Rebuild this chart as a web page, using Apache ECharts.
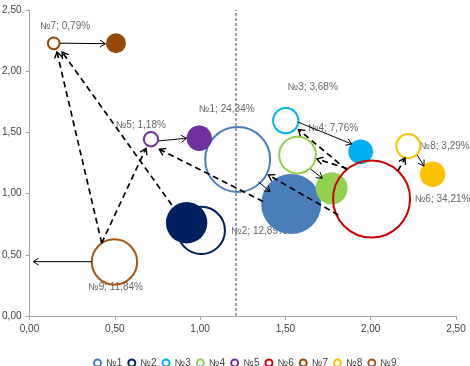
<!DOCTYPE html>
<html>
<head>
<meta charset="utf-8">
<script src="https://cdn.jsdelivr.net/npm/echarts@6/dist/echarts.min.js"></script>
<style>html,body{margin:0;padding:0;background:#fff}#c{width:470px;height:366px}</style>
</head>
<body>
<div id="c"></div>
<script>
const categories = ['№1','№2','№3','№4','№5','№6','№7','№8','№9'];
const seriesColors = ['#4A7EBB','#002060','#00B0F0','#92D050','#7030A0','#CC0000','#984806','#FFC000','#A85414'];
const openX = [1.220, 1.007, 1.502, 1.571, 0.712, 2.005, 0.142, 2.220, 0.498];
const openY = [1.279, 0.699, 1.596, 1.315, 1.444, 0.956, 2.228, 1.389, 0.441];
const openShare = [24.34, 12.89, 3.68, 7.76, 1.18, 34.21, 0.79, 3.29, 11.84];
const fillX = [1.534, 0.921, 1.941, 1.771, 0.995, null, 0.507, 2.363, null];
const fillY = [0.915, 0.762, 1.342, 1.043, 1.452, null, 2.228, 1.158, null];
const fillShare = [20.8, 9.9, 3.5, 5.9, 3.7, null, 2.3, 3.7, null];
const labelX = [1.156, 1.345, 1.660, 1.779, 0.652, 2.421, 0.208, 2.433, 0.504];
const labelY = [1.691, 0.694, 1.868, 1.536, 1.560, 0.953, 2.369, 1.383, 0.234];
const averageX = 1.21;
const solidArrows = [
  [0.179, 2.229, 0.445, 2.225],
  [0.755, 1.430, 0.921, 1.452],
  [1.341, 1.097, 1.410, 1.016],
  [1.576, 1.583, 1.889, 1.405],
  [1.648, 1.201, 1.716, 1.125],
  [2.273, 1.315, 2.312, 1.225],
  [0.365, 0.444, 0.022, 0.444]
];
const dashedArrows = [
  [0.423, 0.596, 0.161, 2.157],
  [0.423, 0.596, 0.683, 1.370],
  [0.834, 0.907, 0.191, 2.157],
  [1.369, 0.936, 0.761, 1.362],
  [1.810, 0.825, 1.400, 1.152],
  [1.861, 1.205, 1.685, 1.283],
  [1.861, 1.193, 1.576, 1.524],
  [2.160, 1.185, 2.201, 1.291]
];
const xTicks = {min: 0, max: 2.5, interval: 0.5};
const yTicks = {min: 0, max: 2.5, interval: 0.5};

const fmt = v => v.toFixed(2).replace('.', ',');
const sizeOf = s => 77 * Math.sqrt(s / 34.21);
const txt = '#404040';
const font = 'Liberation Sans';

const series = [];
series.push({
  type: 'scatter', name: 'labels', z: 1, zlevel: 0, silent: true,
  symbolSize: 1, itemStyle: {color: 'rgba(0,0,0,0)'},
  data: categories.map((c, i) => ({value: [labelX[i], labelY[i]], name: c})),
  label: {show: true, position: 'inside', fontFamily: font, fontSize: 10, color: txt,
    formatter: p => p.name + '; ' + fmt(openShare[p.dataIndex]) + '%'},
  markLine: {silent: true, symbol: 'none', label: {show: false},
    lineStyle: {color: '#808080', type: [3, 2], width: 1.5},
    data: [{xAxis: averageX}]}
});
categories.forEach((c, i) => {
  const data = [{value: [openX[i], openY[i], openShare[i]]}];
  if (fillX[i] != null) data.push({value: [fillX[i], fillY[i], fillShare[i]],
    itemStyle: {color: seriesColors[i], borderWidth: 0, opacity: 1}});
  series.push({
    type: 'scatter', name: c, z: 2, zlevel: 1, silent: true,
    symbolSize: v => sizeOf(v[2]),
    itemStyle: {color: 'rgba(255,255,255,0)', borderColor: seriesColors[i], borderWidth: 2, opacity: 1},
    data: data
  });
});
const arrowData = solidArrows.map(a => a.concat([0])).concat(dashedArrows.map(a => a.concat([1])));
series.push({
  type: 'custom', name: 'arrows', z: 3, zlevel: 1, silent: true,
  encode: {x: [0, 2], y: [1, 3]},
  data: arrowData,
  renderItem: (params, api) => {
    const p1 = api.coord([api.value(0), api.value(1)]);
    const p2 = api.coord([api.value(2), api.value(3)]);
    const dashed = api.value(4) === 1;
    const a = Math.atan2(p2[1] - p1[1], p2[0] - p1[0]);
    const L = dashed ? 7 : 6.5, phi = Math.PI / 5.5;
    const h1 = [p2[0] - L * Math.cos(a - phi), p2[1] - L * Math.sin(a - phi)];
    const h2 = [p2[0] - L * Math.cos(a + phi), p2[1] - L * Math.sin(a + phi)];
    return {type: 'group', children: [
      {type: 'line', shape: {x1: p1[0], y1: p1[1], x2: p2[0], y2: p2[1]},
        style: {stroke: '#000', lineWidth: dashed ? 1.7 : 1, lineDash: dashed ? [6, 4] : null}},
      {type: 'polyline', shape: {points: [h1, p2, h2]},
        style: {stroke: '#000', fill: null, lineWidth: dashed ? 1.4 : 1}}
    ]};
  }
});

const axisCommon = {
  type: 'value', splitLine: {show: false},
  axisLine: {show: true, onZero: false, lineStyle: {color: '#A6A6A6', width: 1}},
  axisTick: {show: true, inside: false, length: 4, lineStyle: {color: '#A6A6A6'}},
  axisLabel: {formatter: fmt, fontFamily: font, fontSize: 10, color: txt, margin: 8}
};

const chart = echarts.init(document.getElementById('c'), null, {renderer: 'canvas'});
chart.setOption({
  animation: false,
  grid: {left: 29.5, right: 14, top: 10, bottom: 50, containLabel: false, outerBoundsMode: 'none'},
  xAxis: Object.assign({}, axisCommon, xTicks),
  yAxis: Object.assign({}, axisCommon, yTicks),
  legend: {
    left: 88, top: 353, icon: 'circle', itemWidth: 7, itemHeight: 7, itemGap: 5,
    textStyle: {fontFamily: font, fontSize: 10, color: txt},
    data: categories.map((c, i) => ({name: c,
      itemStyle: {color: '#fff', borderColor: seriesColors[i], borderWidth: 2}}))
  },
  series: series
});
</script>
</body>
</html>
